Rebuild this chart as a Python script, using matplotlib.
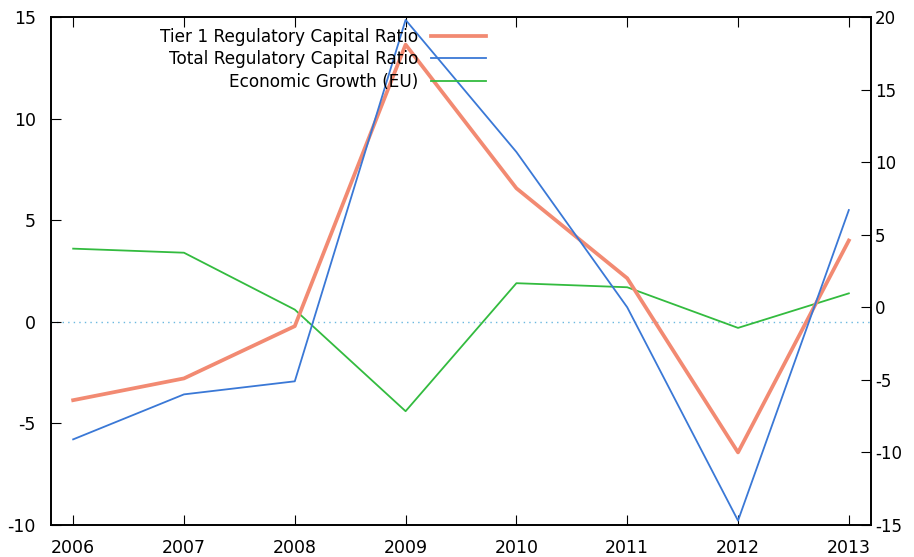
import matplotlib
matplotlib.use("Agg")
import matplotlib.pyplot as plt

years = [2006, 2007, 2008, 2009, 2010, 2011, 2012, 2013]
tier1 = [-6.4, -4.9, -1.3, 18.1, 8.2, 2.0, -10.0, 4.6]
total = [-9.1, -6.0, -5.1, 19.8, 10.7, 0.0, -14.7, 6.7]
growth = [3.6, 3.4, 0.6, -4.4, 1.9, 1.7, -0.3, 1.4]

plt.rcParams['font.family'] = 'DejaVu Sans'
plt.rcParams['axes.unicode_minus'] = False

fig = plt.figure(figsize=(9.14, 5.57), dpi=100)
ax = fig.add_axes([51 / 914, 1 - 525 / 557, 820 / 914, 508 / 557])
ax2 = ax.twinx()

# zero line of the left axis
ax.axhline(0, color='#6ab8e0', lw=1, ls=(0, (1, 3)), zorder=1)

l1, = ax2.plot(years, tier1, color='#f28a72', lw=2.7, label='Tier 1 Regulatory Capital Ratio')
l2, = ax2.plot(years, total, color='#3a78d6', lw=1.3, label='Total Regulatory Capital Ratio')
l3, = ax.plot(years, growth, color='#33bb3f', lw=1.3, label='Economic Growth (EU)')

ax.set_xlim(2005.8, 2013.2)
ax.set_ylim(-10, 15)
ax2.set_ylim(-15, 20)
ax.set_xticks(years)
ax.set_yticks(range(-10, 16, 5))
ax2.set_yticks(range(-15, 21, 5))

ax.tick_params(axis='x', direction='in', top=True, length=7, labelsize=12.5, pad=10)
ax.tick_params(axis='y', direction='in', length=7, labelsize=12.5, right=False, pad=11)
ax2.tick_params(axis='y', direction='in', length=7, labelsize=12, pad=3)
for a in (ax, ax2):
    for s in a.spines.values():
        s.set_linewidth(1.2)

fig.legend(handles=[l1, l2, l3], loc='upper right', markerfirst=False,
           bbox_to_anchor=(486 / 914, 1 - 28 / 557), frameon=False,
           fontsize=12.2, handlelength=3.25, handletextpad=0.75,
           labelspacing=0.26, borderpad=0, borderaxespad=0)

fig.savefig('out.png', dpi=100)
